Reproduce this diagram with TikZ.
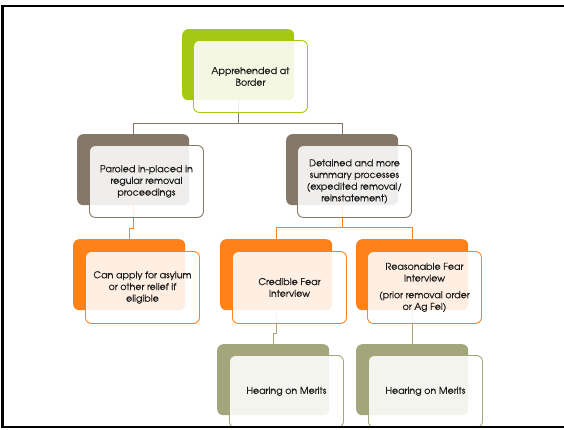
\documentclass[tikz,border=0pt]{standalone}
\usepackage{fontspec}
\setmainfont[FakeBold=0.6]{TeX Gyre Adventor}
\definecolor{cgreen}{HTML}{A5C814}
\definecolor{ctaupe}{HTML}{857869}
\definecolor{corange}{HTML}{FF8119}
\definecolor{colive}{HTML}{A3A57A}
\definecolor{ctext}{HTML}{1C1C1C}
\tikzset{
 backbox/.style={draw=none, fill=#1, rounded corners=6pt, minimum width=112pt, minimum height=71pt, anchor=north west, inner sep=0pt},
 frontbox/.style={draw=#1, line width=0.9pt, fill=white, fill opacity=0.88, text opacity=1, rounded corners=6pt, minimum width=114pt, minimum height=72pt, anchor=north west, inner sep=0pt, align=center, font=\fontsize{9.5}{11.7}\selectfont, text=ctext},
 link/.style={draw=#1, line width=0.9pt},
 frameline/.style={draw=black, line width=2.2pt},
}
\begin{document}
\begin{tikzpicture}[x=1pt,y=-1pt]
\useasboundingbox (0,0) rectangle (564,429);
\fill[white] (0,0) rectangle (564,429);
% back boxes
\node[backbox=cgreen] (t0b) at (182,29) {};
\node[backbox=ctaupe] (l2b) at (77,134) {};
\node[backbox=ctaupe] (r2b) at (286,134) {};
\node[backbox=corange] (l3b) at (73,239) {};
\node[backbox=corange] (m3b) at (220,239) {};
\node[backbox=corange] (r3b) at (356,239) {};
\node[backbox=colive] (l4b) at (217,344) {};
\node[backbox=colive] (r4b) at (356,344) {};
% junction coordinates
\coordinate (j1) at (238,123);
\coordinate (j2) at (133,228);
\coordinate (j3) at (342,227);
\coordinate (j4) at (276,333);
% connectors
\draw[link=ctaupe] (t0b.south) -- (t0b.south |- j1) -| (l2b.north);
\draw[link=ctaupe] (t0b.south |- j1) -| (r2b.north);
\draw[link=corange] (l2b.south) -- (l2b.south |- j2) -| (l3b.north);
\draw[link=corange] (r2b.south) -- (r2b.south |- j3) -| (m3b.north);
\draw[link=corange] (r2b.south |- j3) -| (r3b.north);
\draw[link=colive] (m3b.south) -- (m3b.south |- j4) -| (l4b.north);
\draw[link=colive] (r3b.south) -- (r4b.north);
% front boxes
\node[frontbox=cgreen] (t0) at (193,40) {Apprehended at\\Border};
\node[frontbox=ctaupe] (l2) at (89,145) {Paroled in-placed in\\regular removal\\proceedings};
\node[frontbox=ctaupe] (r2) at (297,145) {Detained and more\\summary processes\\(expedited removal/\\reinstatement)};
\node[frontbox=corange] (l3) at (85,251) {Can apply for asylum\\or other relief if\\eligible};
\node[frontbox=corange] (m3) at (232,251) {Credible Fear\\Interview};
\node[frontbox=corange] (r3) at (367,251) {Reasonable Fear\\Interview\\[5pt](prior removal order\\or Ag Fel)};
\node[frontbox=colive] (l4) at (229,355) {Hearing on Merits};
\node[frontbox=colive] (r4) at (368,355) {Hearing on Merits};
% frame
\draw[frameline] (564,6) -- (2.5,6) -- (2.5,427) -- (564,427);
\end{tikzpicture}
\end{document}
